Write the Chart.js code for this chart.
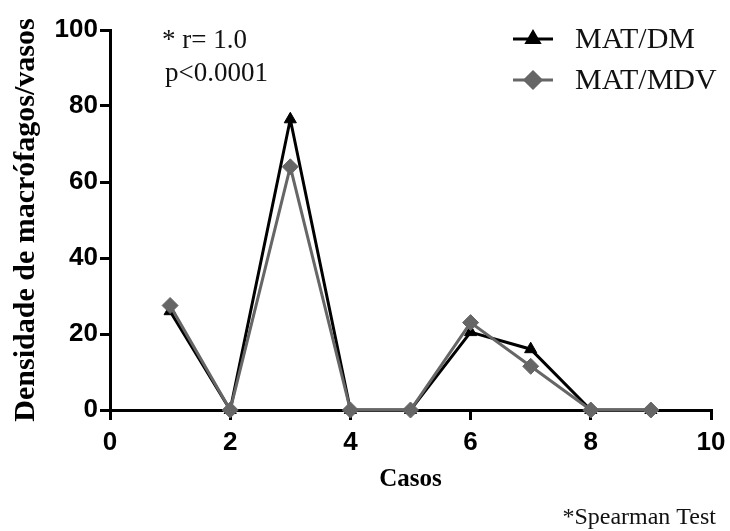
<!DOCTYPE html>
<html>
<head>
<meta charset="utf-8">
<script src="https://cdn.jsdelivr.net/npm/chart.js@4.4.0/dist/chart.umd.min.js"></script>
<style>
  html, body { margin: 0; padding: 0; background: #fff; }
  #wrap { width: 730px; height: 531px; }
</style>
</head>
<body>
<div id="wrap"><canvas id="myChart" width="730" height="531"></canvas></div>
<script>
// datos
const casos = [1, 2, 3, 4, 5, 6, 7, 8, 9];
const matDM = [26, 0, 76.5, 0, 0, 20.5, 16, 0, 0];
const matMDV = [27.5, 0, 64, 0, 0, 23, 11.5, 0, 0];
const xTicks = [0, 2, 4, 6, 8, 10];
const yTicks = [0, 20, 40, 60, 80, 100];
const nombres = ['MAT/DM', 'MAT/MDV'];

const negro = '#000000';
const gris = '#666666';

const toPoints = (vals) => casos.map((c, i) => ({ x: c, y: vals[i] }));

// leyenda y textos sueltos
const extras = {
  id: 'extras',
  afterDraw(chart) {
    const ctx = chart.ctx;
    ctx.save();
    const filas = [
      { y: 39, color: negro, style: 'triangle', r: 7, text: nombres[0] },
      { y: 80, color: gris, style: 'rectRot', r: 8, text: nombres[1] }
    ];
    filas.forEach((f) => {
      ctx.strokeStyle = f.color;
      ctx.lineWidth = 3;
      ctx.beginPath();
      ctx.moveTo(513, f.y);
      ctx.lineTo(553, f.y);
      ctx.stroke();
      ctx.fillStyle = f.color;
      Chart.helpers.drawPoint(ctx, { pointStyle: f.style, radius: f.r, borderWidth: 1 }, 533, f.y);
      ctx.fillStyle = '#111';
      ctx.font = '30px "Liberation Serif"';
      ctx.textBaseline = 'middle';
      ctx.textAlign = 'left';
      ctx.fillText(f.text, 575, f.y + 1);
    });

    ctx.fillStyle = '#111';
    ctx.textBaseline = 'alphabetic';
    ctx.font = '27px "Liberation Serif"';
    ctx.fillText('* r= 1.0', 162, 48);
    ctx.fillText('p<0.0001', 165, 81);

    ctx.font = '24px "Liberation Serif"';
    ctx.textAlign = 'right';
    ctx.fillText('*Spearman Test', 716, 524);
    ctx.restore();
  }
};

const ctx = document.getElementById('myChart');
new Chart(ctx, {
  type: 'line',
  data: {
    datasets: [
      {
        label: nombres[0],
        data: toPoints(matDM),
        borderColor: negro,
        backgroundColor: negro,
        borderWidth: 3,
        pointStyle: 'triangle',
        pointRadius: 7,
        pointBorderWidth: 1,
        order: 2
      },
      {
        label: nombres[1],
        data: toPoints(matMDV),
        borderColor: gris,
        backgroundColor: gris,
        borderWidth: 3,
        pointStyle: 'rectRot',
        pointRadius: 8,
        pointBorderWidth: 1,
        order: 1
      }
    ]
  },
  options: {
    responsive: false,
    animation: false,
    clip: false,
    layout: { padding: { left: 0, top: 30, right: 19, bottom: 0 } },
    plugins: {
      legend: { display: false },
      tooltip: { enabled: false }
    },
    scales: {
      x: {
        type: 'linear',
        min: 0,
        max: 10,
        afterFit: (s) => { s.height = 121; s.paddingLeft = 0; s.paddingRight = 0; },
        afterBuildTicks: (s) => { s.ticks = xTicks.map((v) => ({ value: v })); },
        border: { color: negro, width: 3 },
        grid: { drawOnChartArea: false, drawTicks: true, tickLength: 10, color: negro, lineWidth: 3 },
        ticks: {
          color: negro,
          padding: 7,
          font: { family: '"Liberation Sans"', size: 26, weight: 'bold' }
        },
        title: {
          display: true,
          text: 'Casos',
          color: negro,
          font: { family: '"Liberation Serif"', size: 25, weight: 'bold' },
          padding: { top: 0, bottom: 36 }
        }
      },
      y: {
        min: 0,
        max: 100,
        afterFit: (s) => { s.width = 110; s.paddingTop = 0; s.paddingBottom = 0; },
        afterBuildTicks: (s) => { s.ticks = yTicks.map((v) => ({ value: v })); },
        border: { color: negro, width: 3 },
        grid: { drawOnChartArea: false, drawTicks: true, tickLength: 10, color: negro, lineWidth: 3 },
        ticks: {
          color: negro,
          padding: 2,
          font: { family: '"Liberation Sans"', size: 26, weight: 'bold' }
        },
        title: {
          display: true,
          text: 'Densidade de macrófagos/vasos',
          color: negro,
          font: { family: '"Liberation Serif"', size: 30, weight: 'bold' },
          padding: { top: 8, bottom: 0 }
        }
      }
    }
  },
  plugins: [extras]
});
</script>
</body>
</html>
